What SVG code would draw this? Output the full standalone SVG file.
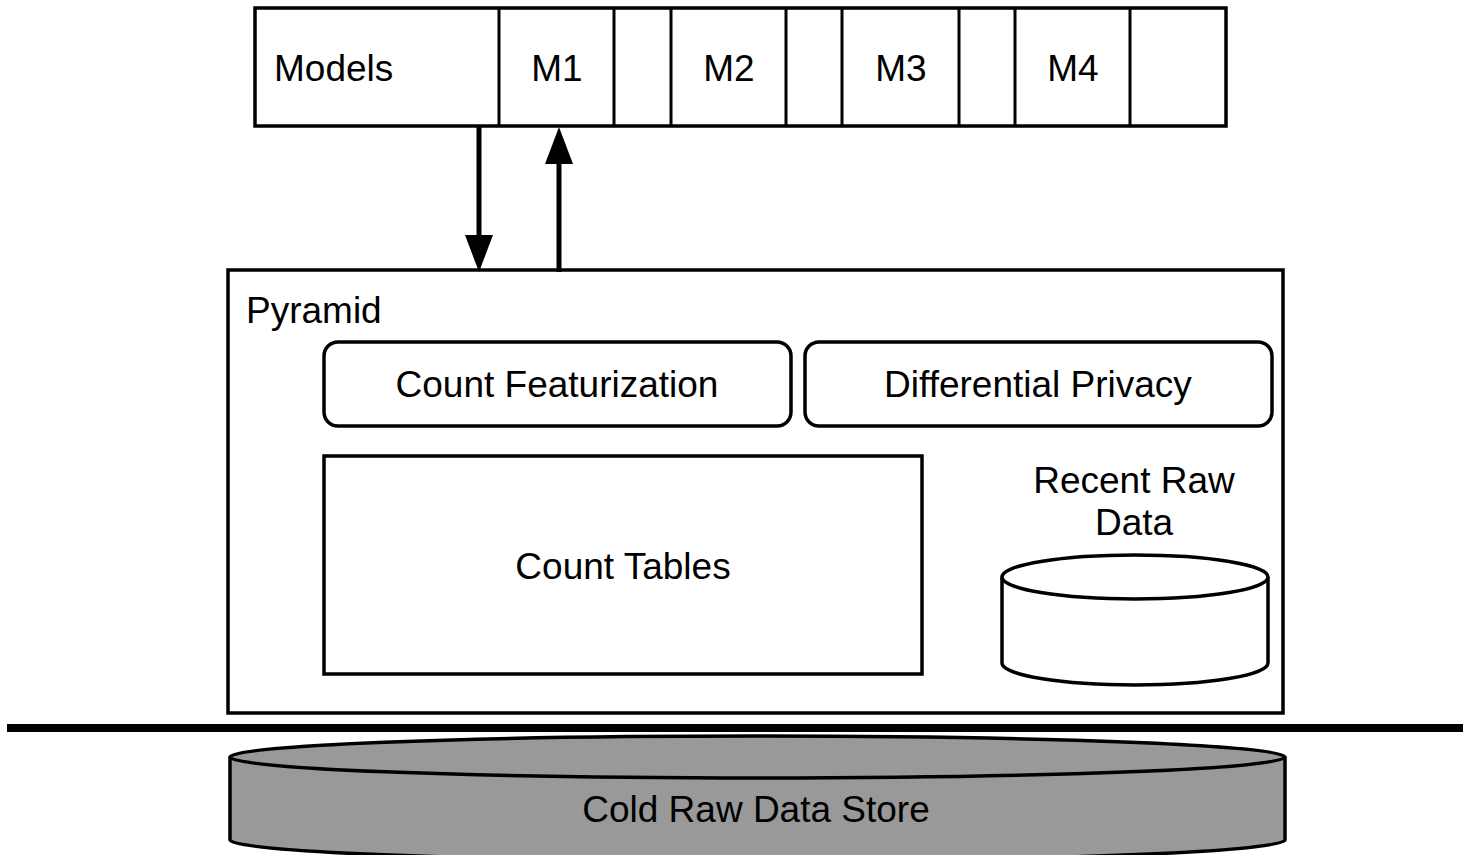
<svg xmlns="http://www.w3.org/2000/svg" width="1463" height="855" viewBox="0 0 1463 855">
  <style>
    .box { fill: #fff; stroke: #000; stroke-width: 3.5; }
    .lbl { font-family: "Liberation Sans", Arial, sans-serif; font-size: 37px; fill: #000; }
    .mid { text-anchor: middle; }
    .edge { stroke: #000; stroke-width: 5; fill: none; }
  </style>
  <defs>
    <!-- solid triangular head; the line stops at the head's base -->
    <marker id="head" viewBox="0 0 37 28" refX="0" refY="14" markerWidth="37" markerHeight="28" markerUnits="userSpaceOnUse" orient="auto">
      <path d="M0,0 L37,14 L0,28 Z" fill="#000"/>
    </marker>
  </defs>
  <rect width="1463" height="855" fill="#fff"/>

  <!-- model registry strip -->
  <g id="models">
    <rect class="box" x="255" y="8" width="971" height="118"/>
    <g stroke="#000" stroke-width="3">
      <line x1="499" y1="8" x2="499" y2="126"/>
      <line x1="614" y1="8" x2="614" y2="126"/>
      <line x1="671" y1="8" x2="671" y2="126"/>
      <line x1="786" y1="8" x2="786" y2="126"/>
      <line x1="842" y1="8" x2="842" y2="126"/>
      <line x1="959" y1="8" x2="959" y2="126"/>
      <line x1="1015" y1="8" x2="1015" y2="126"/>
      <line x1="1130" y1="8" x2="1130" y2="126"/>
    </g>
    <text class="lbl" x="274" y="81">Models</text>
    <text class="lbl mid" x="557" y="81">M1</text>
    <text class="lbl mid" x="729" y="81">M2</text>
    <text class="lbl mid" x="901" y="81">M3</text>
    <text class="lbl mid" x="1073" y="81">M4</text>
  </g>

  <!-- Pyramid container -->
  <g id="pyramid">
    <rect class="box" x="228" y="270" width="1055" height="443"/>
    <text class="lbl" x="246" y="323">Pyramid</text>
  </g>

  <g id="count-featurization">
    <rect class="box" x="324" y="342" width="467" height="84" rx="14"/>
    <text class="lbl mid" x="557" y="397">Count Featurization</text>
  </g>

  <g id="differential-privacy">
    <rect class="box" x="805" y="342" width="467" height="84" rx="14"/>
    <text class="lbl mid" x="1038" y="397">Differential Privacy</text>
  </g>

  <g id="count-tables">
    <rect class="box" x="324" y="456" width="598" height="218"/>
    <text class="lbl mid" x="623" y="579">Count Tables</text>
  </g>

  <g id="recent-raw-data">
    <text class="lbl mid" x="1134" y="493">Recent Raw</text>
    <text class="lbl mid" x="1134" y="535">Data</text>
    <path class="box" d="M1002,577 L1002,663 A133,22 0 0 0 1268,663 L1268,577"/>
    <ellipse class="box" cx="1135" cy="577" rx="133" ry="22"/>
  </g>

  <!-- storage boundary -->
  <line x1="7" y1="728" x2="1463" y2="728" stroke="#000" stroke-width="8"/>

  <g id="cold-raw-data-store">
    <path d="M230,757 L230,840 A527.5,21 0 0 0 1285,840 L1285,757" fill="#999" stroke="#000" stroke-width="3.5"/>
    <ellipse cx="757.5" cy="757" rx="527.5" ry="21" fill="#999" stroke="#000" stroke-width="3.5"/>
    <text class="lbl mid" x="756" y="822">Cold Raw Data Store</text>
  </g>

  <g id="connectors">
    <line class="edge" x1="479" y1="126" x2="479" y2="235" marker-end="url(#head)"/>
    <line class="edge" x1="559" y1="272" x2="559" y2="164" marker-end="url(#head)"/>
  </g>
</svg>
